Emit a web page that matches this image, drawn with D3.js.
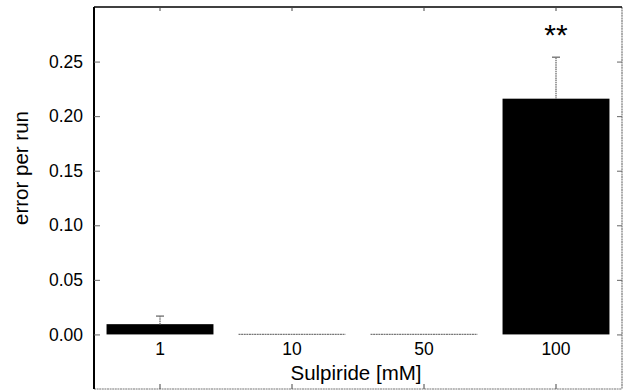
<!DOCTYPE html>
<html><head><meta charset="utf-8">
<script src="https://cdn.jsdelivr.net/npm/d3@7"></script>
<style>body{margin:0;background:#fff}svg{display:block}text{font-family:"Liberation Sans",Arial,sans-serif}</style>
</head><body><svg id="c" width="624" height="391"></svg>
<script>
const categories = ["1", "10", "50", "100"];
const means = [0.0094, 0, 0, 0.216];
const errors = [0.0074, 0, 0, 0.038];
const yTicks = [0, 0.05, 0.10, 0.15, 0.20, 0.25];
const significance = ["", "", "", "**"];

const svg = d3.select("#c");
const L = 94, R = 622, T = 7, B = 389;
const x = d3.scaleBand().domain(categories).range([L, R]).paddingInner(0.19).paddingOuter(0.095);
const y = d3.scaleLinear().domain([-0.05, 0.30]).range([B, T]);
const cx = c => x(c) + x.bandwidth() / 2;

// bars
svg.selectAll("rect.bar").data(categories).join("rect")
  .attr("x", c => x(c)).attr("width", x.bandwidth())
  .attr("y", (c, i) => y(means[i])).attr("height", (c, i) => y(0) - y(means[i]))
  .attr("fill", "#000");
// zero baseline segments for empty bars
svg.selectAll("line.zero").data(categories.filter((c, i) => means[i] === 0)).join("line")
  .attr("x1", c => x(c)).attr("x2", c => x(c) + x.bandwidth())
  .attr("y1", y(0)).attr("y2", y(0)).attr("stroke", "#777").attr("stroke-width", 1.2)
  .attr("stroke-dasharray", "2,0.6");

// error bars
const eb = categories.map((c, i) => ({c, m: means[i], e: errors[i]})).filter(d => d.e > 0);
svg.selectAll("line.err").data(eb).join("line")
  .attr("x1", d => cx(d.c)).attr("x2", d => cx(d.c))
  .attr("y1", d => y(d.m)).attr("y2", d => y(d.m + d.e))
  .attr("stroke", "#888").attr("stroke-width", 1.6).attr("stroke-dasharray", "1.5,0.7");
svg.selectAll("line.cap").data(eb).join("line")
  .attr("x1", d => cx(d.c) - 4).attr("x2", d => cx(d.c) + 4)
  .attr("y1", d => y(d.m + d.e)).attr("y2", d => y(d.m + d.e))
  .attr("stroke", "#777").attr("stroke-width", 1.4);

// significance
svg.selectAll("text.sig").data(categories.filter((c, i) => significance[i])).join("text")
  .attr("x", c => cx(c)).attr("y", 45).attr("text-anchor", "middle")
  .attr("font-size", 30).text(c => significance[categories.indexOf(c)]);

// frame
svg.append("line").attr("x1", L).attr("x2", R).attr("y1", B).attr("y2", B).attr("stroke", "#777").attr("stroke-width", 1.2).attr("stroke-dasharray", "2,0.6");
svg.append("line").attr("x1", R).attr("x2", R).attr("y1", T).attr("y2", B).attr("stroke", "#777").attr("stroke-width", 1.2).attr("stroke-dasharray", "2,0.6");
svg.append("line").attr("x1", L).attr("x2", R).attr("y1", T).attr("y2", T).attr("stroke", "#000").attr("stroke-width", 1.6);
svg.append("line").attr("x1", L).attr("x2", L).attr("y1", T).attr("y2", B).attr("stroke", "#000").attr("stroke-width", 2);

// y axis
const yAxis = d3.axisLeft(y).tickValues(yTicks).tickSize(-6).tickPadding(11).tickFormat(d3.format(".2f"));
const gy = svg.append("g").attr("transform", `translate(${L},0)`).call(yAxis);
gy.select(".domain").remove();
gy.selectAll(".tick line").attr("stroke", "#666").attr("stroke-width", 1);
gy.selectAll(".tick text").attr("font-size", 17.5).attr("fill", "#000").attr("font-family", '"Liberation Sans",Arial,sans-serif');
const yAxisR = d3.axisRight(y).tickValues(yTicks).tickSize(-5).tickFormat("");
const gyr = svg.append("g").attr("transform", `translate(${R},0)`).call(yAxisR);
gyr.select(".domain").remove();
gyr.selectAll(".tick line").attr("stroke", "#666");

// x axis
const xAxis = d3.axisBottom(x).tickSize(-5).tickPadding(0);
const gx = svg.append("g").attr("transform", `translate(0,${B})`).call(xAxis);
gx.select(".domain").remove();
gx.selectAll(".tick line").attr("stroke", "#444");
gx.selectAll(".tick text").remove();
svg.selectAll("text.cat").data(categories).join("text")
  .attr("x", c => cx(c)).attr("y", 355).attr("text-anchor", "middle")
  .attr("font-size", 17.5).text(c => c);
const gxt = svg.append("g").attr("transform", `translate(0,${T})`).call(d3.axisTop(x).tickSize(-4).tickFormat(""));
gxt.select(".domain").remove();
gxt.selectAll(".tick line").attr("stroke", "#444");

// titles
svg.append("text").attr("x", 356).attr("y", 380).attr("text-anchor", "middle").attr("font-size", 20.5).text("Sulpiride [mM]");
svg.append("text").attr("transform", "translate(28,168) rotate(-90)").attr("text-anchor", "middle").attr("font-size", 20.5).text("error per run");
</script></body></html>
